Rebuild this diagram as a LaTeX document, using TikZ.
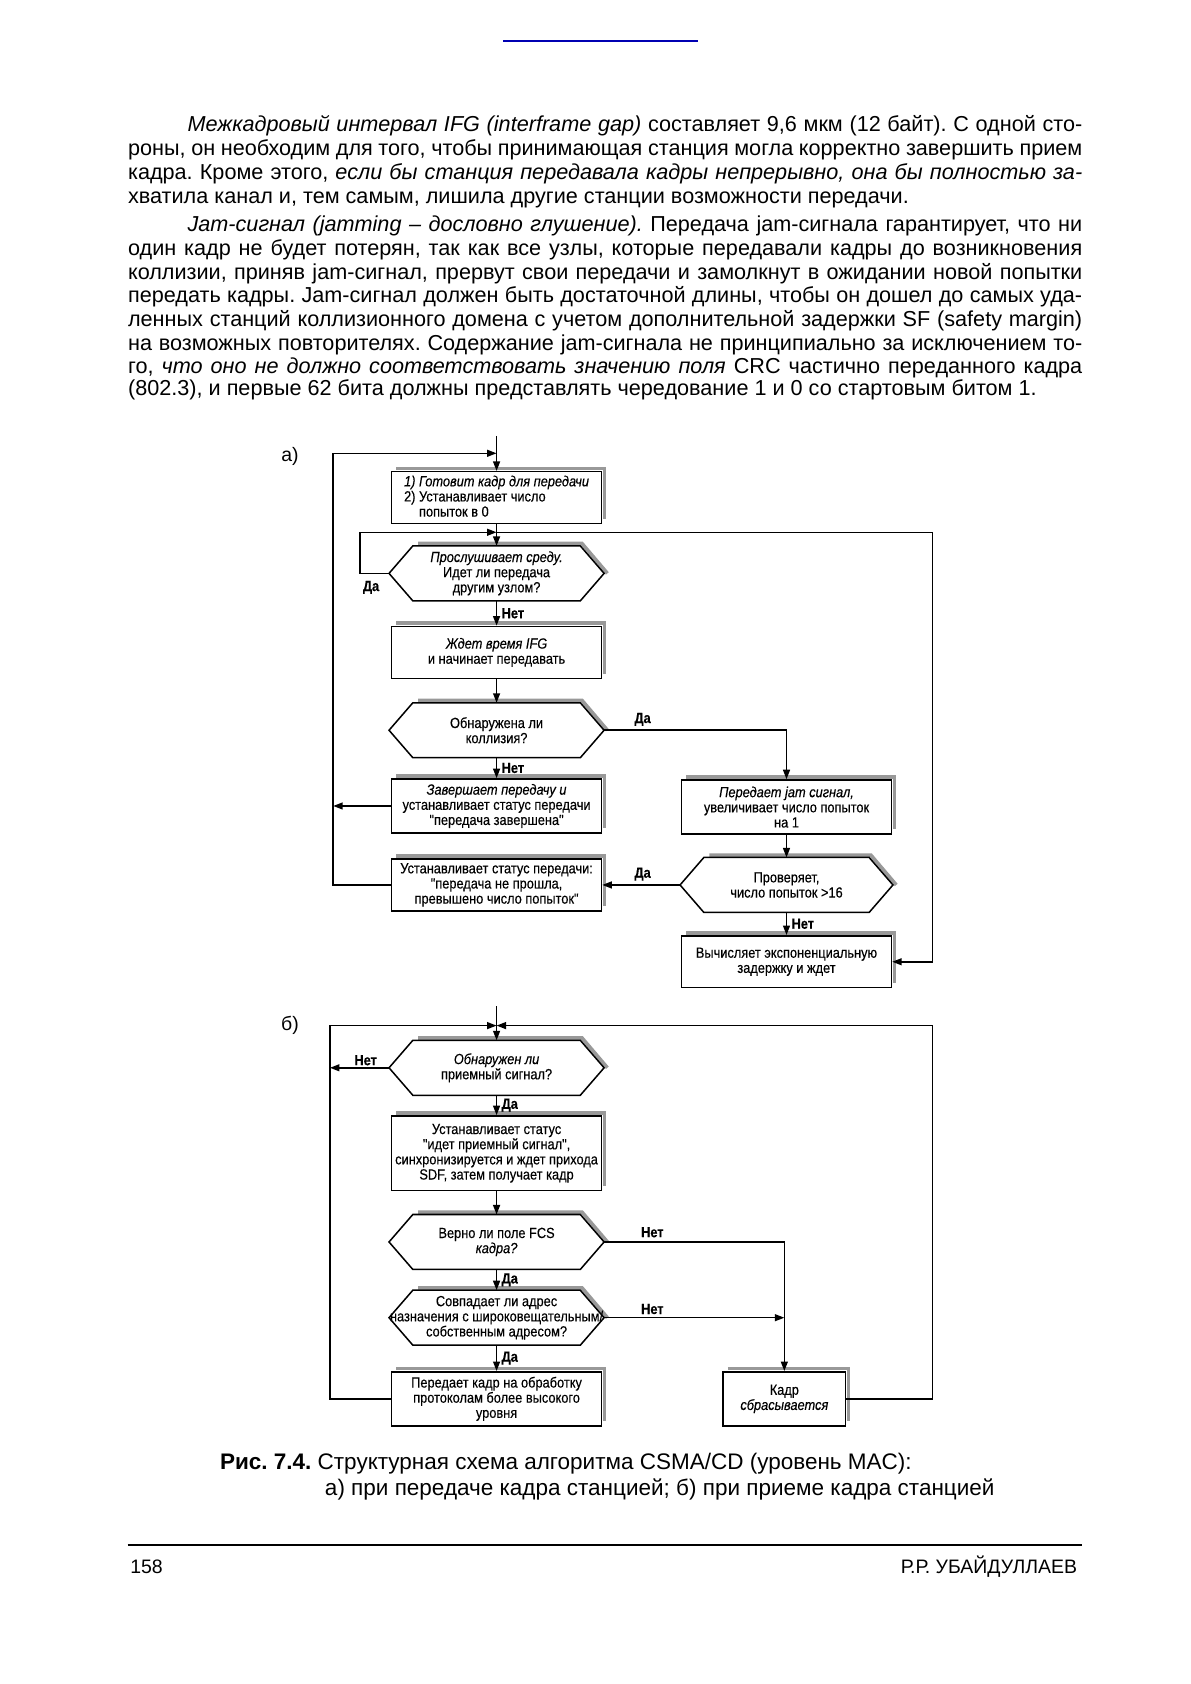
\documentclass[tikz,border=0pt]{standalone}
\usepackage{fontspec}
\setmainfont{Liberation Sans}
\newfontfamily\dgfont[FakeStretch=0.87,FakeBold=0.3]{Liberation Sans}
\usetikzlibrary{arrows.meta,calc}
\pgfdeclarelayer{bg}
\pgfsetlayers{bg,main}
\newcommand\dg{\dgfont\fontsize{6.8pt}{7pt}\selectfont}
\newcommand\tx{\fontsize{10pt}{11pt}\selectfont}
\newcommand\cp{\fontsize{10.4pt}{12pt}\selectfont}
\newcommand\ft{\fontsize{9pt}{11pt}\selectfont}
\newcommand\hexin{22}
\frenchspacing
\tikzset{
 ln/.style={line width=0.7pt},
 arr/.style={ln, -{Triangle[length=4.4pt,width=3.2pt]}},
 blk/.style={draw, ln, fill=white, inner sep=0pt, align=center, font=\dg},
 hexn/.style={inner sep=0pt, align=center, font=\dg, minimum width=99pt, minimum height=25pt},
 shd/.style={line width=1.7pt, draw=black!40},
 lbl/.style={font=\dg\bfseries, inner sep=2pt},
 tline/.style={anchor=base west, inner sep=0pt, font=\tx},
}
\newcommand\bsh[1]{\begin{pgfonlayer}{bg}\draw[shd] ($(#1.north west)+(5,-2.2)$) -- ($(#1.north east)+(2.2,-2.2)$) -- ($(#1.south east)+(2.2,-5)$);\end{pgfonlayer}}
\newcommand\hexa[1]{%
 \begin{pgfonlayer}{bg}\draw[shd] ($(#1.north west)+(\hexin+5,-2.2)$) -- ($(#1.north east)+(-\hexin+1.5,-2.2)$) -- ($(#1.east)+(3,0)$);\end{pgfonlayer}
 \draw[ln] ($(#1.north west)+(\hexin,0)$) -- ($(#1.north east)+(-\hexin,0)$) -- (#1.east) -- ($(#1.south east)+(-\hexin,0)$) -- ($(#1.south west)+(\hexin,0)$) -- (#1.west) -- cycle;}
\begin{document}
\begin{tikzpicture}[x=0.5pt,y=-0.5pt]
\useasboundingbox (0,0) rectangle (1100,1556.6);
\begin{pgfonlayer}{bg}\fill[white] (0,0) rectangle (1100,1556.6);\end{pgfonlayer}
\draw[blue!70!black, line width=0.9pt] (465,38) -- (645,38);
% paragraph text
\node[tline] (p1) at (173,122) {\makebox[413.5pt][s]{\textit{Межкадровый интервал IFG (interframe gap)} составляет 9,6 мкм (12 байт). С одной сто-}};
\node[tline] (p2) at (118,144) {\makebox[441pt][s]{роны, он необходим для того, чтобы принимающая станция могла корректно завершить прием}};
\node[tline] (p3) at (118,166) {\makebox[441pt][s]{кадра. Кроме этого, \textit{если бы станция передавала кадры непрерывно, она бы полностью за-}}};
\node[tline] (p4) at (118,188) {хватила канал и, тем самым, лишила другие станции возможности передачи.};
\node[tline] (p5) at (173,214) {\makebox[413.5pt][s]{\textit{Jam-сигнал (jamming – дословно глушение).} Передача jam-сигнала гарантирует, что ни}};
\node[tline] (p6) at (118,236) {\makebox[441pt][s]{один кадр не будет потерян, так как все узлы, которые передавали кадры до возникновения}};
\node[tline] (p7) at (118,258) {\makebox[441pt][s]{коллизии, приняв jam-сигнал, прервут свои передачи и замолкнут в ожидании новой попытки}};
\node[tline] (p8) at (118,280) {\makebox[441pt][s]{передать кадры. Jam-сигнал должен быть достаточной длины, чтобы он дошел до самых уда-}};
\node[tline] (p9) at (118,302) {\makebox[441pt][s]{ленных станций коллизионного домена с учетом дополнительной задержки SF (safety margin)}};
\node[tline] (p10) at (118,324) {\makebox[441pt][s]{на возможных повторителях. Содержание jam-сигнала не принципиально за исключением то-}};
\node[tline] (p11) at (118,345) {\makebox[441pt][s]{го, \textit{что оно не должно соответствовать значению поля} CRC частично переданного кадра}};
\node[tline] (p12) at (118,366) {(802.3), и первые 62 бита должны представлять чередование 1 и 0 со стартовым битом 1.};
% part a
\node[font=\ft] (la) at (268,422) {а)};
\node[blk, minimum width=97pt, minimum height=24pt, align=left] (b1) at (459,460) {\textit{1) Готовит кадр для передачи}\\2) Устанавливает число\\\phantom{2) }попыток в 0};
\bsh{b1}
\node[hexn] (h1) at (459,530) {\textit{Прослушивает среду.}\\Идет ли передача\\другим узлом?};
\hexa{h1}
\node[blk, minimum width=97pt, minimum height=24pt] (b2) at (459,603) {\textit{Ждет время IFG}\\и начинает передавать};
\bsh{b2}
\node[hexn] (h2) at (459,675) {Обнаружена ли\\коллизия?};
\hexa{h2}
\node[blk, minimum width=97pt, minimum height=25pt] (b4) at (459,745) {\textit{Завершает передачу и}\\устанавливает статус передачи\\"передача завершена"};
\bsh{b4}
\node[blk, minimum width=97pt, minimum height=25pt] (b3) at (727,746) {\textit{Передает jam сигнал,}\\увеличивает число попыток\\на 1};
\bsh{b3}
\node[hexn, minimum width=98pt] (h3) at (727,818) {Проверяет,\\число попыток >16};
\hexa{h3}
\node[blk, minimum width=97pt, minimum height=24pt] (b5) at (459,818) {Устанавливает статус передачи:\\"передача не прошла,\\превышено число попыток"};
\bsh{b5}
\node[blk, minimum width=97pt, minimum height=24pt] (b6) at (727,889) {Вычисляет экспоненциальную\\задержку и ждет};
\bsh{b6}
\coordinate (ain) at (459,403);
\coordinate (aL) at (308,419);
\coordinate (j1) at (459,492);
\coordinate (aR) at (862,492);
\draw[arr] (ain) -- (b1.north);
\draw[arr] (b5.west) -| (aL) -- (aL -| b1.north);
\draw[arr] (b4.west) -- (b4.west -| aL);
\draw[arr] (b1.south) -- (h1.north);
\draw[arr] (h1.west) -- ++(-27,0) |- (j1);
\draw[arr] (j1) -- (aR) |- (b6.east);
\node[lbl] (l1) at (343,543) {Да};
\draw[arr] (h1.south) -- node[lbl,right] (l2) {Нет} (b2.north);
\draw[arr] (b2.south) -- (h2.north);
\draw[arr] (h2.east) -| (b3.north);
\node[lbl] (l3) at (594,665) {Да};
\draw[arr] (h2.south) -- node[lbl,right] (l4) {Нет} (b4.north);
\draw[arr] (b3.south) -- (h3.north);
\draw[arr] (h3.west) -- (b5.east);
\node[lbl] (l5) at (594,808) {Да};
\draw[arr] (h3.south) -- node[lbl,right] (l6) {Нет} (b6.north);
% part b
\node[font=\ft] (lb) at (268,948) {б)};
\node[hexn] (h4) at (459,987) {\textit{Обнаружен ли}\\приемный сигнал?};
\hexa{h4}
\node[blk, minimum width=97pt, minimum height=34.5pt] (b8) at (459,1066) {Устанавливает статус\\"идет приемный сигнал",\\синхронизируется и ждет прихода\\SDF, затем получает кадр};
\bsh{b8}
\node[hexn] (h5) at (459,1148) {Верно ли поле FCS\\\textit{кадра?}};
\hexa{h5}
\node[hexn] (h6) at (459,1218) {Совпадает ли адрес\\назначения с широковещательным/\\собственным адресом?};
\hexa{h6}
\node[blk, minimum width=97pt, minimum height=25pt] (b7) at (459,1293) {Передает кадр на обработку\\протоколам более высокого\\уровня};
\bsh{b7}
\node[blk, minimum width=56.5pt, minimum height=25pt] (b9) at (725,1293) {Кадр\\\textit{сбрасывается}};
\bsh{b9}
\coordinate (bin) at (459,930);
\coordinate (j2) at (459,948);
\coordinate (bL) at (305,948);
\coordinate (bR) at (862,948);
\draw[arr] (bin) -- (h4.north);
\draw[arr] (b7.west) -| (bL) -- (j2);
\draw[arr] (b9.east) -| (bR) -- (j2);
\draw[arr] (h4.west) -- (h4.west -| bL);
\node[lbl] (l7) at (338,980) {Нет};
\draw[arr] (h4.south) -- node[lbl,right] (l8) {Да} (b8.north);
\draw[arr] (b8.south) -- (h5.north);
\draw[arr] (h5.east) -| (b9.north);
\node[lbl] (l9) at (603,1139) {Нет};
\draw[arr] (h5.south) -- node[lbl,right] (l10) {Да} (h6.north);
\draw[arr] (h6.east) -- (h6.east -| b9.north);
\node[lbl] (l11) at (603,1210) {Нет};
\draw[arr] (h6.south) -- node[lbl,right] (l12) {Да} (b7.north);
% caption
\node[tline, font=\cp] (c1) at (203,1358) {\textbf{Рис. 7.4.} Структурная схема алгоритма CSMA/CD (уровень MAC):};
\node[tline, font=\cp] (c2) at (300,1382) {а) при передаче кадра станцией; б) при приеме кадра станцией};
% footer
\draw[line width=0.6pt] (118,1428) -- (1000,1428);
\node[tline, font=\ft] (pg) at (120,1454) {158};
\node[anchor=base east, inner sep=0pt, font=\ft] (au) at (996,1454) {Р.Р. УБАЙДУЛЛАЕВ};
\end{tikzpicture}
\end{document}
